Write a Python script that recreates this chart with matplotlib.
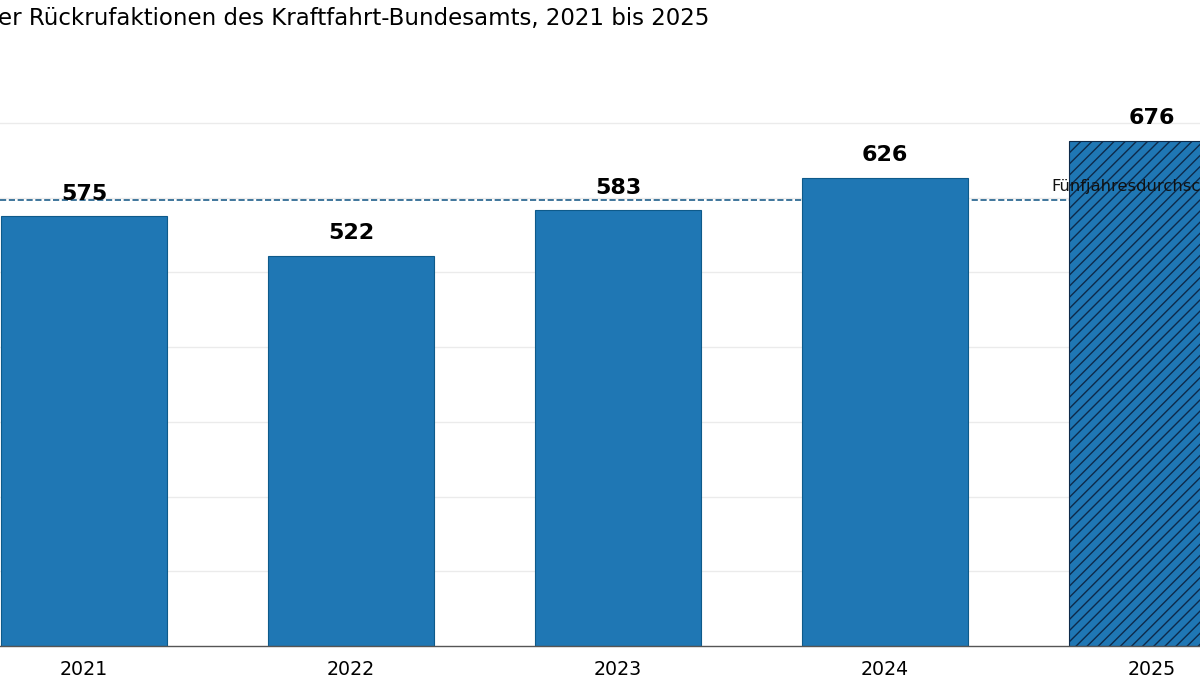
import numpy as np
import matplotlib.pyplot as plt

# Daten
jahre = ["2021", "2022", "2023", "2024", "2025"]
rueckrufe = [575, 522, 583, 626, 676]
titel = "er Rückrufaktionen des Kraftfahrt-Bundesamts, 2021 bis 2025"

BAR_COLOR = "#1f77b4"
EDGE_COLOR = "#0e5a8a"
LINE_COLOR = "#1f5f8b"

plt.rcParams["hatch.linewidth"] = 1.0

fig = plt.figure(figsize=(12, 6.75), dpi=100)
ax = fig.add_axes([0, 0.043, 1, 0.83])

x = np.arange(len(jahre))
bars = ax.bar(x, rueckrufe, width=0.62, color=BAR_COLOR,
              edgecolor=EDGE_COLOR, linewidth=0.8, zorder=2)
# letztes Jahr schraffiert
bars[-1].set_hatch("///")
bars[-1].set_edgecolor("#0d2a4a")

# Durchschnittslinie
mittel = np.mean(rueckrufe)
ax.axhline(mittel, color=LINE_COLOR, linestyle="--", linewidth=1.2, zorder=1)
ax.text(3.625, mittel + 9, "Fünfjahresdurchschnitt", fontsize=11.8,
        ha="left", va="bottom", color="#111111", zorder=4)

# Werte über den Balken
for xi, val in zip(x, rueckrufe):
    ax.annotate(str(val), (xi, val), xytext=(0, 16.5), textcoords="offset points",
                ha="center", va="center", fontsize=16, fontweight="bold", zorder=4)

ax.set_xlim(-0.315, 4.18)
ax.set_ylim(0, 750)
ax.set_yticks(np.arange(100, 701, 100))
ax.yaxis.grid(True, color="#ebebeb", linewidth=1, zorder=0)
ax.set_axisbelow(True)
ax.tick_params(axis="y", left=False, labelleft=False)
ax.set_xticks(x)
ax.set_xticklabels(jahre, fontsize=13.7)
ax.tick_params(axis="x", length=0, pad=10)

for s in ["top", "right", "left"]:
    ax.spines[s].set_visible(False)
ax.spines["bottom"].set_color("#555555")
ax.spines["bottom"].set_linewidth(1.0)

fig.text(-0.002, 0.973, titel, fontsize=16.5, ha="left", va="center")

fig.savefig("out.png", dpi=100)
